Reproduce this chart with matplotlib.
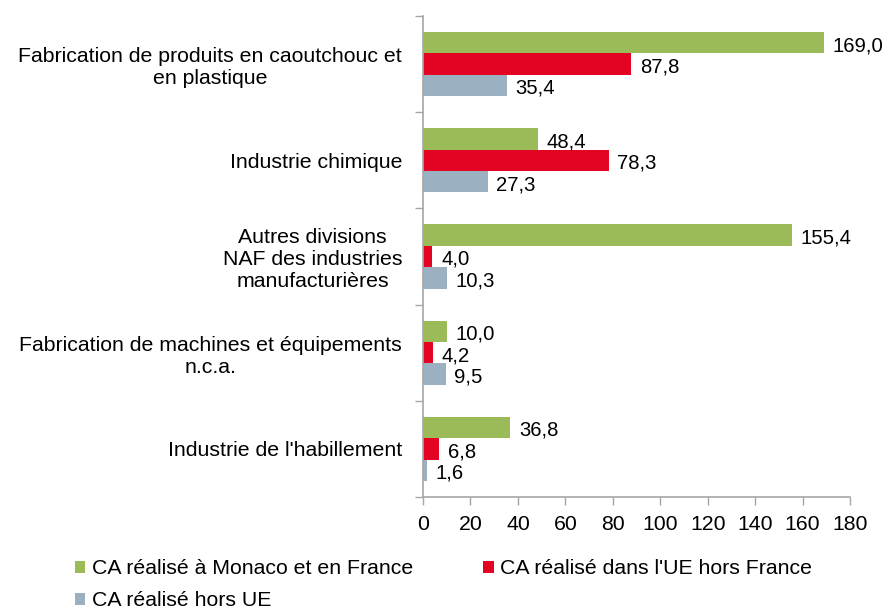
import matplotlib
matplotlib.use("Agg")
import matplotlib.pyplot as plt
import numpy as np

plt.rcParams["font.family"] = ["Liberation Sans", "DejaVu Sans"]

categories = [
    "Fabrication de produits en caoutchouc et\nen plastique",
    "Industrie chimique",
    "Autres divisions\nNAF des industries\nmanufacturières",
    "Fabrication de machines et équipements\nn.c.a.",
    "Industrie de l'habillement",
]
series_names = [
    "CA réalisé à Monaco et en France",
    "CA réalisé dans l'UE hors France",
    "CA réalisé hors UE",
]
monaco_france = [169.0, 48.4, 155.4, 10.0, 36.8]
ue_hors_france = [87.8, 78.3, 4.0, 4.2, 6.8]
hors_ue = [35.4, 27.3, 10.3, 9.5, 1.6]
colors = ["#9BBB59", "#E30424", "#9BB0C1"]
x_ticks = [0, 20, 40, 60, 80, 100, 120, 140, 160, 180]

AXIS = "#A6A6A6"
FS = 15.3

fig = plt.figure(figsize=(8.84, 6.11), dpi=100)
ax = fig.add_axes([0.4785, 0.1866, 0.483, 0.7872])

n = len(categories)
pos = np.arange(n)
h = 0.222
handles = []
for k, (vals, col, name) in enumerate(zip([monaco_france, ue_hors_france, hors_ue], colors, series_names)):
    y = pos + (k - 1) * h
    b = ax.barh(y, vals, height=h, color=col, label=name, linewidth=0)
    handles.append(b)
    for yy, v in zip(y, vals):
        ax.text(v + 3.6, yy + 0.03, f"{v:.1f}".replace(".", ","), va="center", ha="left",
                fontsize=14.6, color="black")

ax.set_ylim(n - 0.5, -0.5)
ax.set_xlim(0, 180)
ax.set_xticks(x_ticks)
ax.set_xticklabels([str(t) for t in x_ticks], fontsize=FS)
ax.set_yticks(np.arange(n + 1) - 0.5, minor=False)
ax.set_yticklabels([])
ax.set_yticks(pos, minor=True)
ax.set_yticklabels(categories, minor=True, fontsize=FS, multialignment="center")
ax.tick_params(axis="y", which="minor", length=0, pad=15)
ax.tick_params(axis="y", which="major", length=6, color=AXIS, width=1)
ax.tick_params(axis="x", length=6, color=AXIS, width=1, pad=7)

for s in ("top", "right"):
    ax.spines[s].set_visible(False)
for s in ("left", "bottom"):
    ax.spines[s].set_color(AXIS)
    ax.spines[s].set_linewidth(1.2)

order = [handles[0], handles[2], handles[1]]
fig.legend(order, [h_.get_label() for h_ in order], ncol=2, loc="lower left",
           bbox_to_anchor=(0.063, -0.03), frameon=False, fontsize=FS,
           handlelength=0.5, handleheight=0.5, handletextpad=0.3,
           columnspacing=3.3, labelspacing=0.6)

fig.savefig("out.png", dpi=100, facecolor="white")
